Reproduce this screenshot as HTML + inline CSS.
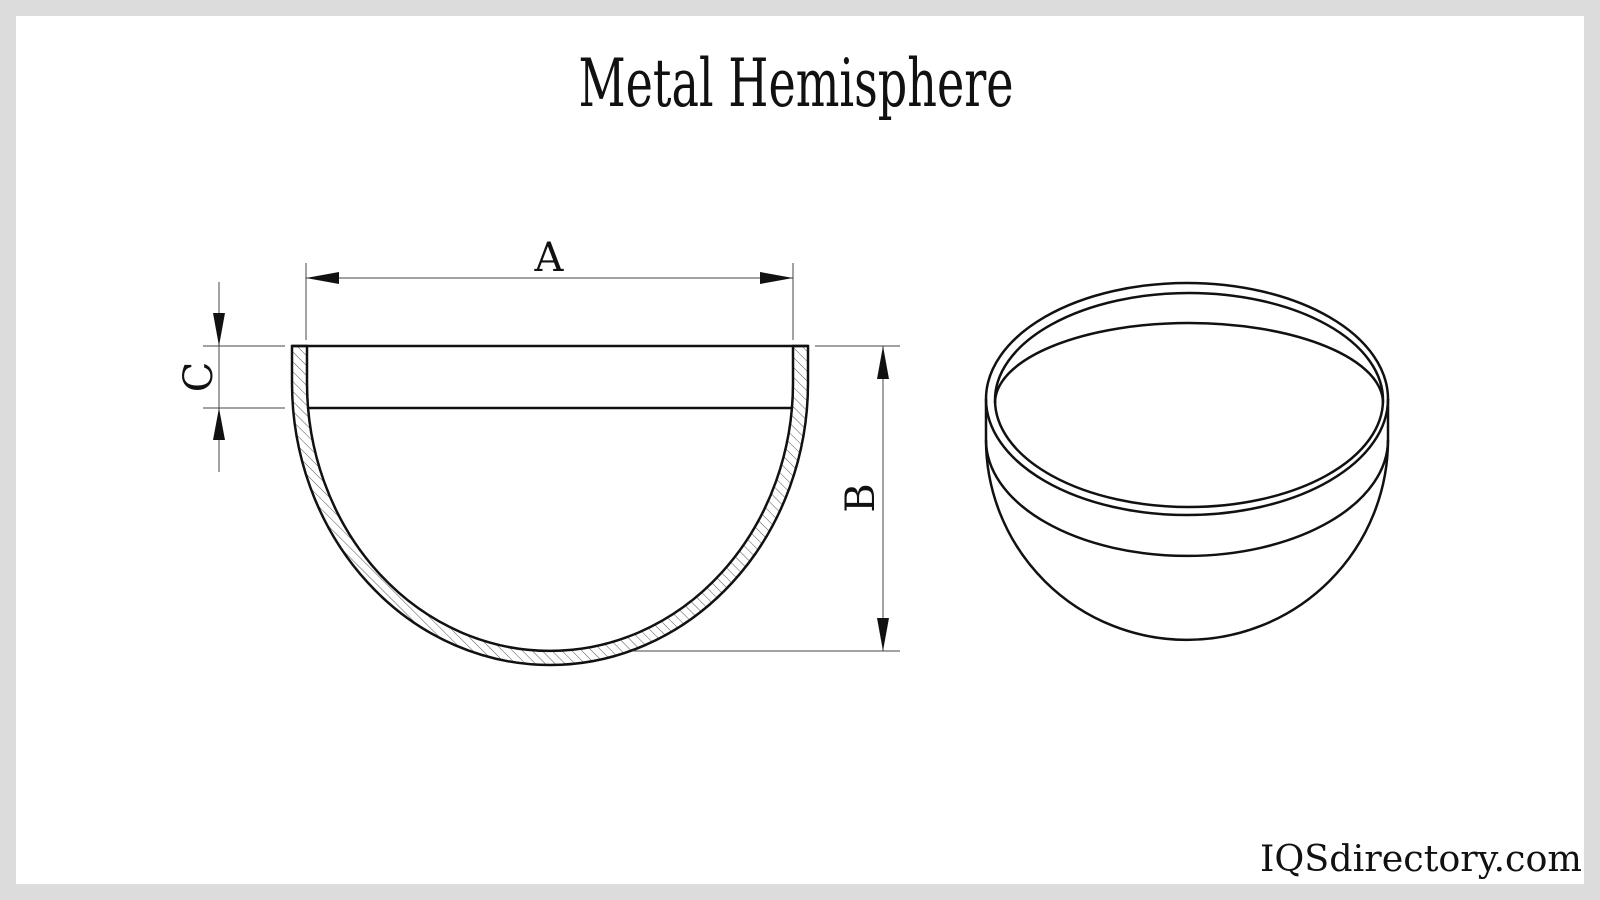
<!DOCTYPE html>
<html><head><meta charset="utf-8"><style>html,body{margin:0;padding:0;background:#ddd}svg{display:block}</style></head>
<body>
<svg width="1600" height="900" viewBox="0 0 1600 900" xmlns="http://www.w3.org/2000/svg">
<defs>
<pattern id="h" width="7" height="7" patternUnits="userSpaceOnUse" patternTransform="rotate(-45)">
<line x1="0" y1="0" x2="0" y2="7" stroke="#555" stroke-width="1"/>
</pattern>
<clipPath id="shell">
<path d="M292 346 L292 383 A258 282 0 0 0 808 383 L808 346 L793 346 L793 383 A243 268 0 0 1 307 383 L307 346 Z" clip-rule="evenodd"/>
</clipPath>
</defs>
<rect x="0" y="0" width="1600" height="900" fill="#dcdcdc"/>
<rect x="16" y="16" width="1568" height="868" fill="#fff"/>
<text x="796" y="106" font-family="DejaVu Serif, serif" font-size="66" text-anchor="middle" textLength="435" lengthAdjust="spacingAndGlyphs" fill="#111">Metal Hemisphere</text>
<text x="1582" y="871" font-family="DejaVu Serif, serif" font-size="36" text-anchor="end" textLength="322" lengthAdjust="spacingAndGlyphs" fill="#111">IQSdirectory.com</text>

<rect x="280" y="340" width="540" height="340" fill="url(#h)" clip-path="url(#shell)"/>
<path d="M292 346 L292 383 A258 282 0 0 0 808 383 L808 346 L793 346 L793 383 A243 268 0 0 1 307 383 L307 346 Z" fill="none" stroke="#111" stroke-width="2.5"/>
<line x1="292" y1="346" x2="808" y2="346" stroke="#111" stroke-width="2.5"/>
<line x1="307" y1="408" x2="793" y2="408" stroke="#111" stroke-width="2.5"/>

<g stroke="#444" stroke-width="1">
<line x1="306" y1="263" x2="306" y2="340"/>
<line x1="793" y1="263" x2="793" y2="340"/>
<line x1="306" y1="278" x2="793" y2="278"/>
<line x1="219" y1="282" x2="219" y2="472"/>
<line x1="203" y1="346" x2="285" y2="346"/>
<line x1="203" y1="408" x2="285" y2="408"/>
<line x1="815" y1="346" x2="900" y2="346"/>
<line x1="633" y1="651" x2="900" y2="651"/>
<line x1="883" y1="346" x2="883" y2="651"/>
</g>
<g fill="#111">
<polygon points="306,278 339,272 339,284"/>
<polygon points="793,278 760,272 760,284"/>
<polygon points="219,346 213,313 225,313"/>
<polygon points="219,408 213,440 225,440"/>
<polygon points="883,346 877,379 889,379"/>
<polygon points="883,651 877,618 889,618"/>
</g>
<text x="549" y="271" font-family="DejaVu Serif, serif" font-size="40" text-anchor="middle" fill="#111">A</text>
<text transform="translate(874,498) rotate(-90)" font-family="DejaVu Serif, serif" font-size="40" text-anchor="middle" fill="#111">B</text>
<text transform="translate(212,377) rotate(-90)" font-family="DejaVu Serif, serif" font-size="40" text-anchor="middle" fill="#111">C</text>

<g fill="none" stroke="#111" stroke-width="2.5">
<ellipse cx="1187" cy="399" rx="201" ry="116"/>
<ellipse cx="1189" cy="400" rx="194" ry="107"/>
<path d="M995 403 A194 80 0 0 1 1383 403"/>
<path d="M986 440 A201 116 0 0 0 1388 440"/>
<path d="M986 399 L986 440 A201 200 0 0 0 1388 440 L1388 399"/>
</g>
</svg>
</body></html>
